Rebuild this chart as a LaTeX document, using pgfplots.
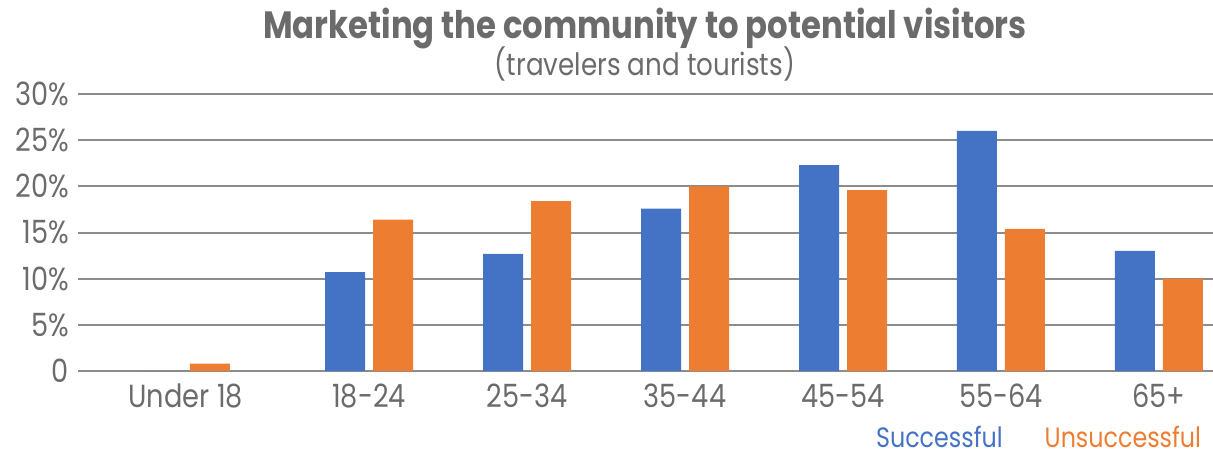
\documentclass[border=0pt]{standalone}
\usepackage{pgfplots}
\pgfplotsset{compat=1.18}
\usepackage{fontspec}
\setmainfont{Poppins}[FakeStretch=0.85]
\definecolor{sblue}{HTML}{4472C4}
\definecolor{uorange}{HTML}{ED7D31}
\definecolor{txt}{HTML}{6B6B6B}
\definecolor{gridc}{HTML}{8C8C8C}
\begin{document}
\begin{tikzpicture}
\path[use as bounding box] (0,0) rectangle (606.5pt,-228pt);
\begin{axis}[
  at={(39pt,-185.5pt)}, anchor=south west,
  scale only axis, width=567.5pt, height=138.5pt,
  xmin=-0.842, xmax=6.342, ymin=0, ymax=30,
  axis x line*=bottom, axis y line*=left,
  y axis line style={draw=none},
  x axis line style={gridc, line width=1pt, -},
  ytick={0,5,10,15,20,25,30},
  yticklabels={0,5\%,10\%,15\%,20\%,25\%,30\%},
  ymajorgrids, grid style={gridc, line width=1pt},
  xtick={-0.16,1,2,3,4,5,6},
  xticklabels={Under 18,18-24,25-34,35-44,45-54,55-64,65+},
  tick style={draw=none}, major tick length=0pt,
  ticklabel style={font=\fontsize{16}{18}\selectfont, text=txt},
  xticklabel style={yshift=-3pt},
  yticklabel style={xshift=-1pt},
  legend style={draw=none, fill=none, at={(0.993,-0.242)}, anchor=east,
    legend columns=2, font=\fontsize{14}{16}\selectfont,
    inner sep=0pt, outer sep=0pt,
    /tikz/every even column/.append style={column sep=17pt}},
  legend image code/.code={},
]
\addplot[ybar, bar width=20pt, bar shift=-12pt, fill=sblue, draw=none]
  coordinates {(-0.16,0) (1,10.7) (2,12.7) (3,17.6) (4,22.3) (5,26.0) (6,13.0)};
\addlegendentry{\textcolor{sblue}{Successful}}
\addplot[ybar, bar width=20pt, bar shift=12pt, fill=uorange, draw=none]
  coordinates {(-0.16,0.8) (1,16.4) (2,18.4) (3,20.0) (4,19.6) (5,15.4) (6,10.0)};
\addlegendentry{\textcolor{uorange}{Unsuccessful}}
\end{axis}
\node[anchor=base, font=\bfseries\fontsize{19}{22}\selectfont, text=txt] at (322.5pt,-19pt) {Marketing the community to potential visitors};
\node[anchor=base, font=\fontsize{15.4}{18}\selectfont, text=txt] at (322.5pt,-37.5pt) {(travelers and tourists)};
\end{tikzpicture}
\end{document}
